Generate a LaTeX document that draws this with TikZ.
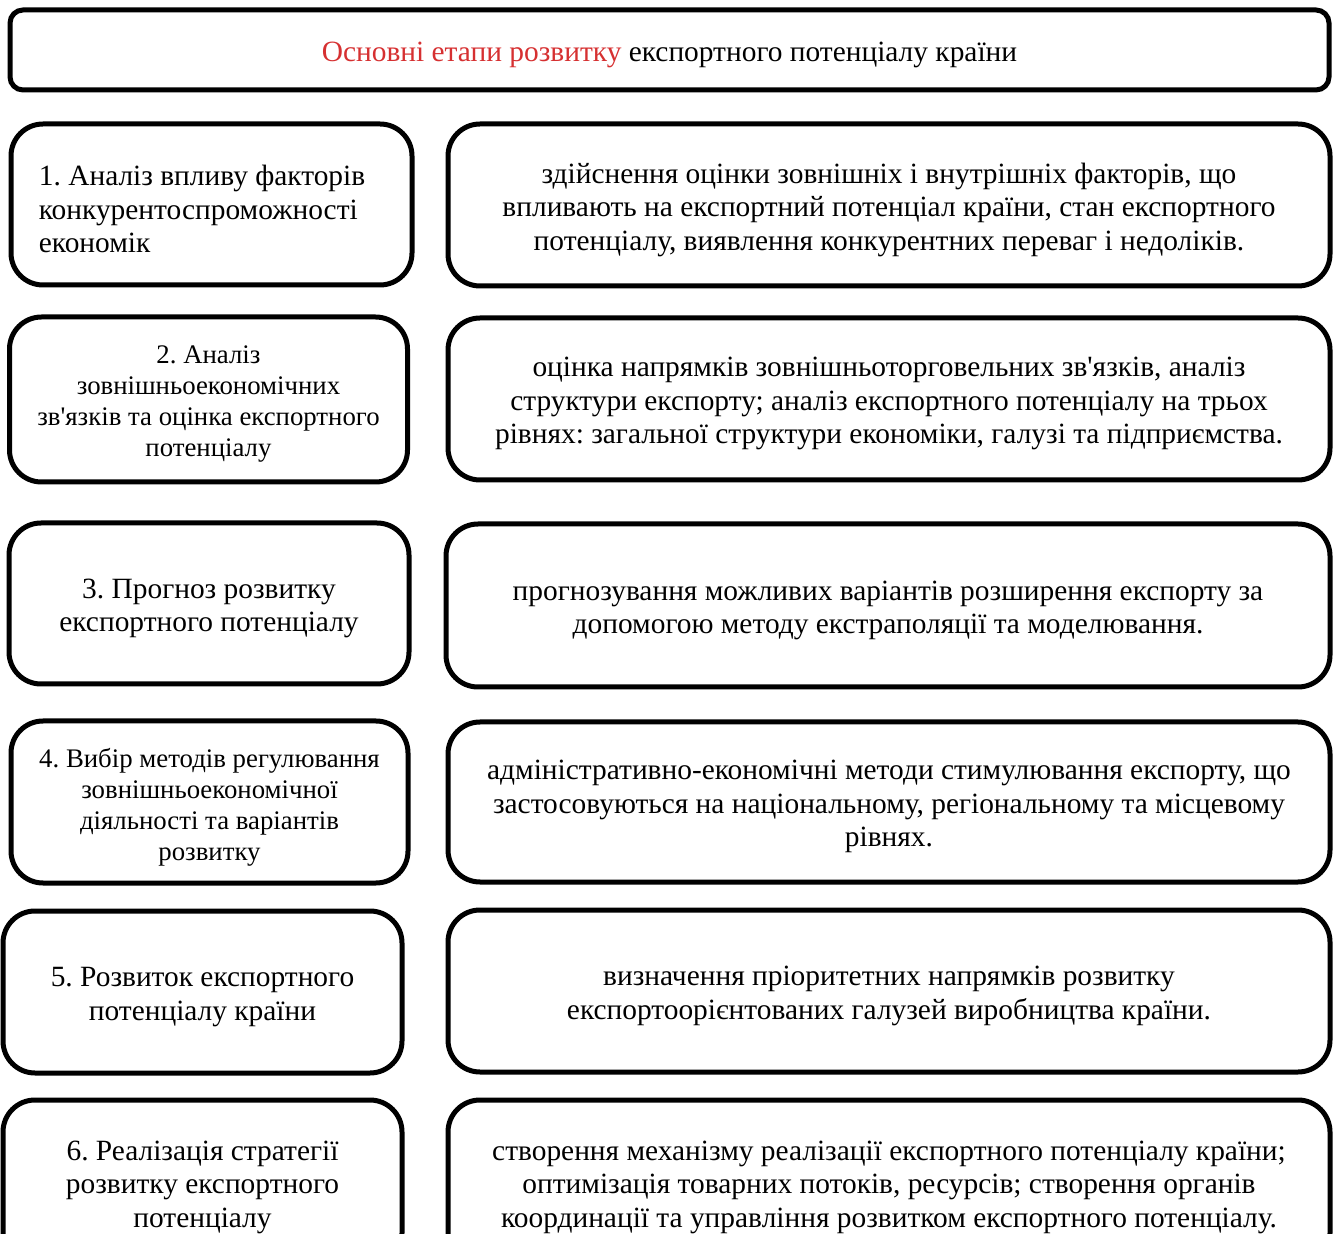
\documentclass[tikz,border=0pt]{standalone}
\usepackage{fontspec}
\setmainfont{Liberation Serif}[Ligatures=TeXOff]
\definecolor{titlered}{RGB}{214,48,49}
\tikzset{
  boxbase/.style={draw=black, line width=2.5pt, inner sep=0pt},
  bigbox/.style={boxbase, rounded corners=16pt},
  txt/.style={inner sep=0pt, align=center,
    font=\fontsize{14.7}{16.75}\selectfont\frenchspacing},
  smalltext/.style={font=\fontsize{13.4}{15.5}\selectfont\frenchspacing},
  dims/.style 2 args={minimum width=#1*0.5pt, minimum height=#2*0.5pt},
  dn/.style={yshift=-2.4pt}
}
\begin{document}
\begin{tikzpicture}[x=0.5pt, y=-0.5pt]
\useasboundingbox (0,0) rectangle (1338,1234);
\clip (0,0) rectangle (1338,1234);
% title
\node[boxbase, rounded corners=6.5pt, dims={1319}{80}] (title) at (669.5,50) {};
\node[txt] (titletext) at ([dn]title.center)
  {\textcolor{titlered}{Основні етапи розвитку} експортного потенціалу країни};
% row 1
\node[bigbox, dims={401}{161}] (b1l) at (211.5,204.5) {};
\node[txt, align=left, anchor=west] (t1l) at ([dn, xshift=15pt]b1l.west)
  {1. Аналіз впливу факторів\\конкурентоспроможності\\економік};
\node[bigbox, dims={882}{162}] (b1r) at (889,205) {};
\node[txt] (t1r) at ([dn]b1r.center)
  {здійснення оцінки зовнішніх і внутрішніх факторів, що\\впливають на експортний потенціал країни, стан експортного\\потенціалу, виявлення конкурентних переваг і недоліків.};
% row 2
\node[bigbox, dims={398}{165}] (b2l) at (208.5,399.5) {};
\node[txt, smalltext] (t2l) at ([dn]b2l.center)
  {2. Аналіз\\зовнішньоекономічних\\зв'язків та оцінка експортного\\потенціалу};
\node[bigbox, dims={882}{162}] (b2r) at (889,399) {};
\node[txt] (t2r) at ([dn]b2r.center)
  {оцінка напрямків зовнішньоторговельних зв'язків, аналіз\\структури експорту; аналіз експортного потенціалу на трьох\\рівнях: загальної структури економіки, галузі та підприємства.};
% row 3
\node[bigbox, dims={400}{161}] (b3l) at (209,603.5) {};
\node[txt] (t3l) at ([dn]b3l.center)
  {3. Прогноз розвитку\\експортного потенціалу};
\node[bigbox, dims={884}{163}] (b3r) at (888,605.5) {};
\node[txt] (t3r) at ([dn]b3r.center)
  {прогнозування можливих варіантів розширення експорту за\\допомогою методу екстраполяції та моделювання.};
% row 4
\node[bigbox, dims={397}{162}] (b4l) at (209.5,802) {};
\node[txt, smalltext] (t4l) at ([dn]b4l.center)
  {4. Вибір методів регулювання\\зовнішньоекономічної\\діяльності та варіантів\\розвитку};
\node[bigbox, dims={882}{160}] (b4r) at (889,802) {};
\node[txt] (t4r) at ([dn]b4r.center)
  {адміністративно-економічні методи стимулювання експорту, що\\застосовуються на національному, регіональному та місцевому\\рівнях.};
% row 5
\node[bigbox, dims={399}{162}] (b5l) at (202.5,992) {};
\node[txt] (t5l) at ([dn]b5l.center)
  {5. Розвиток експортного\\потенціалу країни};
\node[bigbox, dims={882}{162}] (b5r) at (889,991) {};
\node[txt] (t5r) at ([dn]b5r.center)
  {визначення пріоритетних напрямків розвитку\\експортоорієнтованих галузей виробництва країни.};
% row 6
\node[bigbox, dims={399}{165}] (b6l) at (202.5,1182.5) {};
\node[txt] (t6l) at ([dn]b6l.center)
  {6. Реалізація стратегії\\розвитку експортного\\потенціалу};
\node[bigbox, dims={882}{165}] (b6r) at (889,1182.5) {};
\node[txt] (t6r) at ([dn]b6r.center)
  {створення механізму реалізації експортного потенціалу країни;\\оптимізація товарних потоків, ресурсів; створення органів\\координації та управління розвитком експортного потенціалу.};
\end{tikzpicture}
\end{document}
